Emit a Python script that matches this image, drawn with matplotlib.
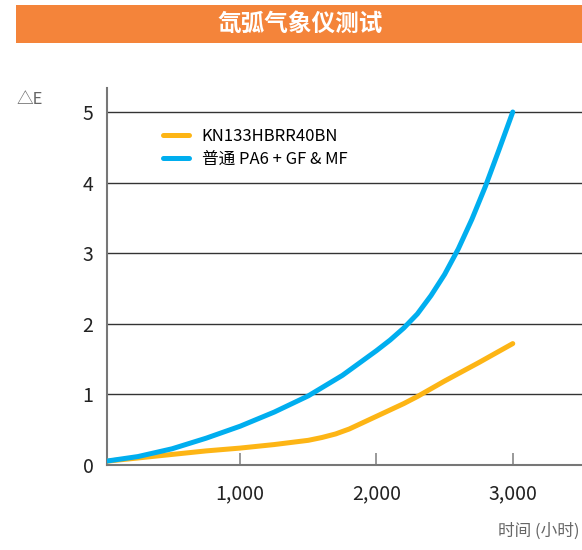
import matplotlib
matplotlib.use("Agg")
import matplotlib.pyplot as plt
from matplotlib.patches import Rectangle

plt.rcParams['font.family'] = ['Noto Sans CJK SC', 'DejaVu Sans']

# 数据
horas_azul = [0, 250, 500, 750, 1000, 1250, 1500, 1750, 2000, 2100, 2200, 2300, 2400,
              2500, 2600, 2700, 2800, 2900, 3000]
de_azul = [0.05, 0.12, 0.23, 0.38, 0.55, 0.75, 0.98, 1.27, 1.62, 1.77, 1.94, 2.14, 2.40,
           2.70, 3.06, 3.48, 3.95, 4.47, 5.0]

horas_naranja = [0, 250, 500, 750, 1000, 1250, 1500, 1600, 1700, 1800, 1900, 2000, 2100,
                 2200, 2300, 2400, 2500, 2750, 3000]
de_naranja = [0.05, 0.10, 0.15, 0.20, 0.24, 0.29, 0.35, 0.39, 0.44, 0.51, 0.60, 0.69, 0.78,
              0.87, 0.97, 1.08, 1.19, 1.45, 1.72]

etiquetas = ['KN133HBRR40BN', '普通 PA6 + GF & MF']
xticks = [1000, 2000, 3000]
xtick_labels = ['1,000', '2,000', '3,000']
yticks = [0, 1, 2, 3, 4, 5]

fig = plt.figure(figsize=(5.82, 5.5), dpi=100)

# barra del título
fig.patches.append(Rectangle((0.0275, 0.9218), 0.9725, 0.0691, transform=fig.transFigure,
                             facecolor='#F4843A', edgecolor='none'))
fig.text(0.515, 0.956, '氙弧气象仪测试', color='white', fontsize=17, fontweight='bold',
         ha='center', va='center')

ax = fig.add_axes([0.1844, 0.1545, 0.8156, 0.6855])
ax.plot(horas_naranja, de_naranja, color='#FDB515', lw=3.6, solid_capstyle='round',
        solid_joinstyle='round', label=etiquetas[0], zorder=3)
ax.plot(horas_azul, de_azul, color='#00AEEF', lw=3.6, solid_capstyle='round',
        solid_joinstyle='round', label=etiquetas[1], zorder=4)

ax.set_xlim(25, 3508)
ax.set_ylim(0, 5.34)

for y in yticks[1:]:
    ax.axhline(y, color='#333333', lw=1.0, zorder=1)

ax.set_xticks(xticks)
ax.set_xticklabels(xtick_labels)
ax.set_yticks(yticks)
ax.tick_params(axis='x', direction='in', length=9, width=1.2, color='#888888',
               pad=13, labelsize=14, labelcolor='#222222')
ax.tick_params(axis='y', length=0, pad=10, labelsize=14, labelcolor='#222222')

for s in ['top', 'right']:
    ax.spines[s].set_visible(False)
for s in ['left', 'bottom']:
    ax.spines[s].set_color('#777777')
    ax.spines[s].set_linewidth(1.5)

handles, labels = ax.get_legend_handles_labels()
ax.legend(handles, labels, loc='upper left', bbox_to_anchor=(0.268, 0.78),
          bbox_transform=fig.transFigure, frameon=False, fontsize=12,
          handlelength=1.6, handletextpad=0.75, labelspacing=0.35, borderaxespad=0)

fig.text(0.029, 0.82, '△E', color='#666666', fontsize=12, ha='left', va='center')
fig.text(0.995, 0.035, '时间 (小时)', color='#666666', fontsize=12, ha='right', va='center')

fig.savefig('out.png', dpi=100)
